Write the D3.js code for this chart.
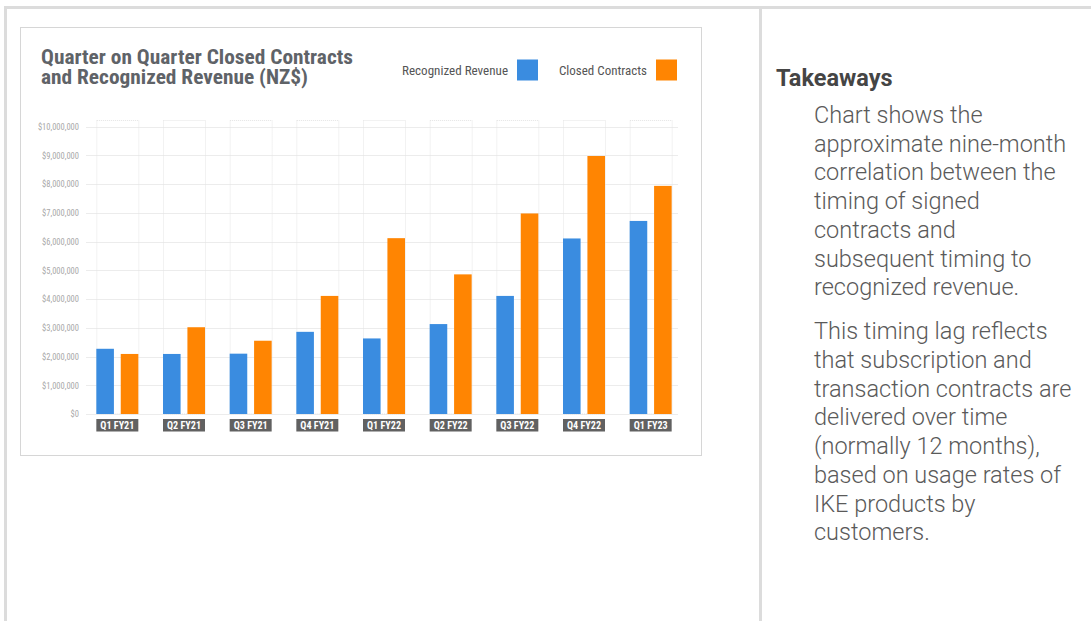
<!DOCTYPE html>
<html>
<head>
<meta charset="utf-8">
<script src="https://cdn.jsdelivr.net/npm/d3@7"></script>
<style>
  html, body { margin: 0; padding: 0; background: #fff; }
  svg { display: block; }
</style>
</head>
<body>
<svg id="chart" width="1091" height="621"></svg>
<script>
// ---- Data ----
const categories = ["Q1 FY21","Q2 FY21","Q3 FY21","Q4 FY21","Q1 FY22","Q2 FY22","Q3 FY22","Q4 FY22","Q1 FY23"];
const recognizedRevenue = [2270000, 2090000, 2100000, 2860000, 2630000, 3130000, 4110000, 6110000, 6720000];
const closedContracts   = [2090000, 3020000, 2550000, 4110000, 6120000, 4860000, 6980000, 8980000, 7940000];
const seriesNames = ["Recognized Revenue", "Closed Contracts"];
const yTicks = [0, 1000000, 2000000, 3000000, 4000000, 5000000, 6000000, 7000000, 8000000, 9000000, 10000000];
const titleLines = ["Quarter on Quarter Closed Contracts", "and Recognized Revenue (NZ$)"];
const takeawaysTitle = "Takeaways";
const para1 = ["Chart shows the", "approximate nine-month", "correlation between the", "timing of signed", "contracts and", "subsequent timing to", "recognized revenue."];
const para2 = ["This timing lag reflects", "that subscription and", "transaction contracts are", "delivered over time", "(normally 12 months),", "based on usage rates of", "IKE products by", "customers."];

const colors = ["#3a8ce0", "#ff8502"];
const condensed = "'Roboto Condensed', 'Liberation Sans Narrow', 'DejaVu Sans Condensed', Roboto, sans-serif";

const svg = d3.select("#chart");

// ---- Outer frame ----
const frame = svg.append("g").attr("fill", "#dcdcdc");
frame.append("rect").attr("x", 4).attr("y", 6).attr("width", 1087).attr("height", 3);
frame.append("rect").attr("x", 4).attr("y", 6).attr("width", 3).attr("height", 615);
frame.append("rect").attr("x", 759).attr("y", 6).attr("width", 3).attr("height", 615);

// ---- Chart card ----
svg.append("rect").attr("x", 20.5).attr("y", 27.5).attr("width", 681).attr("height", 428)
  .attr("fill", "#fff").attr("stroke", "#d6d6d6").attr("stroke-width", 1);

// Title
const title = svg.append("text").attr("font-family", condensed).attr("font-weight", "bold")
  .attr("font-size", 20).attr("fill", "#5f6368");
title.selectAll("tspan").data(titleLines).join("tspan")
  .attr("x", 41).attr("y", (d, i) => 64 + i * 19.5)
  .attr("textLength", (d, i) => [312, 267][i]).attr("lengthAdjust", "spacingAndGlyphs")
  .text(d => d);

// Legend
const legendItems = [
  {name: seriesNames[0], tx: 402, tw: 106, sx: 517},
  {name: seriesNames[1], tx: 559, tw: 88, sx: 656}
];
const lg = svg.append("g");
legendItems.forEach((it, i) => {
  lg.append("text").attr("x", it.tx).attr("y", 75).attr("font-family", condensed)
    .attr("font-size", 13.5).attr("fill", "#555")
    .attr("textLength", it.tw).attr("lengthAdjust", "spacingAndGlyphs").text(it.name);
  lg.append("rect").attr("x", it.sx).attr("y", 59.5).attr("width", 21).attr("height", 21).attr("fill", colors[i]);
});

// ---- Scales ----
const y = d3.scaleLinear().domain([0, 10000000]).range([414, 126.7]);
const x0 = d3.scaleBand().domain(categories).range([84, 684]).paddingInner(0.37).paddingOuter(0.185);
const x1 = d3.scaleBand().domain(seriesNames).range([0, x0.bandwidth()]).paddingInner(0.28);

// Gridlines
svg.append("g").selectAll("line").data(yTicks).join("line")
  .attr("x1", 86).attr("x2", 678)
  .attr("y1", d => Math.round(y(d)) + 0.5).attr("y2", d => Math.round(y(d)) + 0.5)
  .attr("stroke", "#ececec").attr("stroke-width", 1);

// Dotted group outlines
svg.append("g").selectAll("rect").data(categories).join("rect")
  .attr("x", d => x0(d) + 0.5).attr("y", 120.5)
  .attr("width", x0.bandwidth()).attr("height", y(0) - 120.5)
  .attr("fill", "none").attr("stroke", "#e4e4e4").attr("stroke-width", 1)
  .attr("stroke-dasharray", "1,1");

// Y axis labels
const yAxis = d3.axisLeft(y).tickValues(yTicks).tickSize(0).tickPadding(0)
  .tickFormat(d => "$" + d3.format(",")(d));
const yg = svg.append("g").attr("transform", "translate(79,0)").call(yAxis);
yg.select(".domain").remove();
yg.selectAll("text").attr("font-family", condensed).attr("font-size", 8.5).attr("fill", "#a8a8a8")
  .attr("dy", "0.32em");

// Bars
const groups = svg.append("g").selectAll("g").data(categories).join("g")
  .attr("transform", d => `translate(${x0(d)},0)`);
groups.selectAll("rect").data((d, i) => [
  {s: seriesNames[0], v: recognizedRevenue[i], c: colors[0]},
  {s: seriesNames[1], v: closedContracts[i], c: colors[1]}
]).join("rect")
  .attr("x", d => x1(d.s)).attr("width", x1.bandwidth())
  .attr("y", d => y(d.v)).attr("height", d => y(0) - y(d.v))
  .attr("fill", d => d.c);

// Category labels
const xg = svg.append("g");
xg.selectAll("rect").data(categories).join("rect")
  .attr("x", d => x0(d)).attr("y", 419).attr("width", x0.bandwidth()).attr("height", 12.5)
  .attr("fill", "#616161");
xg.selectAll("text").data(categories).join("text")
  .attr("x", d => x0(d) + x0.bandwidth() / 2).attr("y", 429.2)
  .attr("text-anchor", "middle").attr("font-family", condensed).attr("font-weight", "bold")
  .attr("font-size", 11).attr("fill", "#fff")
  .attr("textLength", 34).attr("lengthAdjust", "spacingAndGlyphs")
  .text(d => d);

// ---- Takeaways panel ----
svg.append("text").attr("x", 776).attr("y", 86).attr("font-family", "Roboto, sans-serif")
  .attr("font-weight", "bold").attr("font-size", 23.5).attr("fill", "#454545").text(takeawaysTitle);

const body = svg.append("g").attr("font-family", "'Roboto Light', Roboto, sans-serif").attr("font-weight", 300)
  .attr("font-size", 23.5).attr("fill", "#5a5a5a");
body.selectAll("text.p1").data(para1).join("text").attr("class", "p1")
  .attr("x", 814).attr("y", (d, i) => 123 + i * 28.7).text(d => d);
body.selectAll("text.p2").data(para2).join("text").attr("class", "p2")
  .attr("x", 814).attr("y", (d, i) => 339.3 + i * 28.7).text(d => d);
</script>
</body>
</html>
